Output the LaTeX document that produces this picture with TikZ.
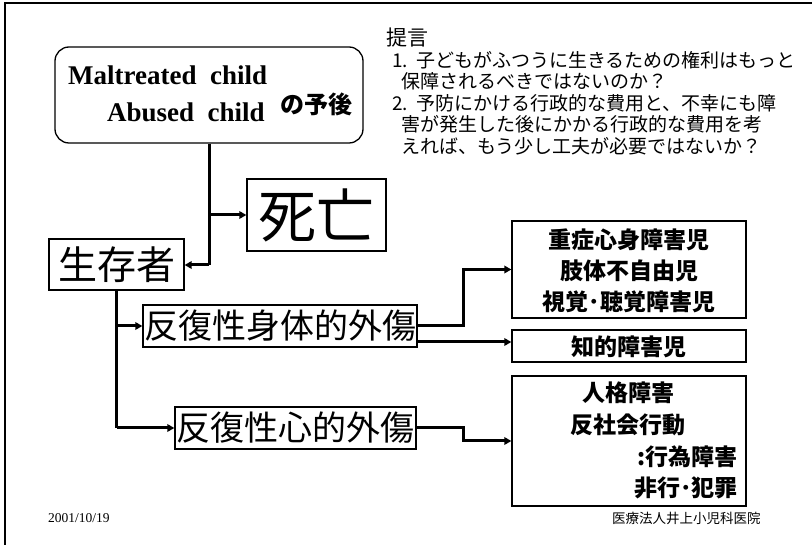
\documentclass[tikz,border=0pt]{standalone}
\usepackage{fontspec}
\setmainfont{Liberation Serif}
\newfontfamily\jp{Noto Sans CJK JP}
\usetikzlibrary{arrows.meta}
\begin{document}
\begin{tikzpicture}[x=1pt,y=-1pt,
  box/.style={draw,line width=1.3pt,inner sep=0pt,anchor=center},
  conn/.style={line width=3pt},
  arr/.style={line width=3pt,-{Triangle[length=7pt,width=7.5pt]}},
  lbl/.style={inner sep=0pt},
  prop/.style={inner sep=0pt,anchor=west,font=\jp\fontsize{19}{19}\selectfont},
  bigjp/.style={font=\jp\fontsize{#1}{#1}\selectfont},
  boldjp/.style={inner sep=0pt,font=\jp\bfseries\fontsize{23}{23}\selectfont},
]
\useasboundingbox (0,0) rectangle (812,545);
\draw[line width=2pt] (5,545) -- (5,3) -- (812,3);

% boxes
\node[box,rounded corners=14pt,minimum width=308pt,minimum height=96pt] (mal) at (209,95) {};
\node[lbl,anchor=base west,font=\bfseries\fontsize{27}{27}\selectfont] (mt1) at (68,85) {Maltreated\ \ child};
\node[lbl,anchor=base west,font=\bfseries\fontsize{27}{27}\selectfont] (mt2) at (107,122) {Abused\ \ child};
\node[lbl,anchor=west,font=\jp\bfseries\fontsize{24}{24}\selectfont] (yogo) at (280,104) {の予後};

\node[box,minimum width=139pt,minimum height=72pt,bigjp=58] (death) at (316.5,215) {死亡};
\node[box,minimum width=135pt,minimum height=51pt,bigjp=39] (surv) at (116.5,264.5) {生存者};
\node[box,minimum width=274pt,minimum height=42pt,bigjp=34] (tphys) at (280,326) {反復性身体的外傷};
\node[box,minimum width=241pt,minimum height=42pt,bigjp=34] (tpsy) at (295.5,428) {反復性心的外傷};

\node[box,minimum width=234pt,minimum height=97pt] (bA) at (629,269.5) {};
\node[boldjp] (a1) at (629,240) {重症心身障害児};
\node[boldjp] (a2) at (629,271) {肢体不自由児};
\node[boldjp] (a3) at (629,302) {視覚･聴覚障害児};

\node[box,minimum width=234pt,minimum height=32pt] (bB) at (629,346) {};
\node[boldjp] (b1) at (629,347) {知的障害児};

\node[box,minimum width=234pt,minimum height=130pt] (bC) at (629,441) {};
\node[boldjp] (c1) at (628,393) {人格障害};
\node[boldjp] (c2) at (628,425) {反社会行動};
\node[boldjp,anchor=east] (c3) at (738,457) {:行為障害};
\node[boldjp,anchor=east] (c4) at (738,488) {非行･犯罪};

% proposal
\node[lbl,anchor=west,font=\jp\fontsize{21}{21}\selectfont] (teigen) at (386,38) {提言};
\node[prop] (p1) at (392,60) {1.\hskip 8pt 子どもがふつうに生きるための権利はもっと};
\node[prop] (p2) at (401,81.5) {保障されるべきではないのか？};
\node[prop] (p3) at (392,103) {2.\hskip 8pt 予防にかける行政的な費用と、不幸にも障};
\node[prop] (p4) at (401,124.5) {害が発生した後にかかる行政的な費用を考};
\node[prop] (p5) at (401,146) {えれば、もう少し工夫が必要ではないか？};

% footer
\node[lbl,anchor=west,font=\fontsize{13.5}{13.5}\selectfont] (date) at (48,518) {2001/10/19};
\node[lbl,anchor=west,font=\jp\fontsize{13.5}{13.5}\selectfont] (clinic) at (612,518) {医療法人井上小児科医院};

% connectors
\coordinate (j1) at (209,215);
\coordinate (j2) at (209,265);
\draw[conn] (mal.south) -- (j2);
\draw[arr] (j1) -- (death.west);
\draw[arr] (j2) -- (surv.east |- j2);

\coordinate (k1) at (116.5,326);
\coordinate (k2) at (116.5,428);
\draw[conn] (surv.south) -- (k2);
\draw[arr] (k1) -- (tphys.west);
\draw[arr] (k2) -- (tpsy.west);

\coordinate (m1) at (463,326);
\coordinate (m2) at (463,269.5);
\draw[arr] (tphys.east) -- (m1) -- (m2) -- (bA.west);
\coordinate (n1) at (tphys.east |- 0,342);
\draw[arr] (n1) -- (bB.west |- n1);

\coordinate (q1) at (463,428);
\coordinate (q2) at (463,441);
\draw[arr] (tpsy.east) -- (q1) -- (q2) -- (bC.west);
\end{tikzpicture}
\end{document}
